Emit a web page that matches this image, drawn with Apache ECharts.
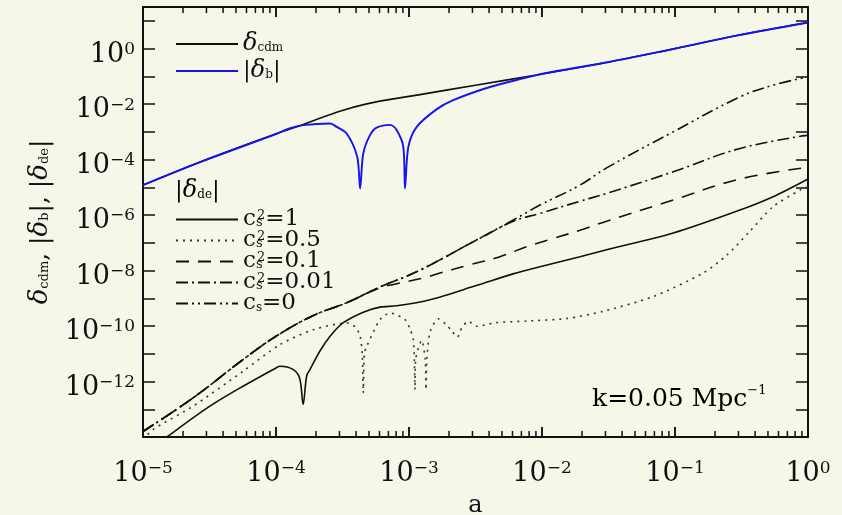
<!DOCTYPE html>
<html><head><meta charset="utf-8">
<script src="https://cdn.jsdelivr.net/npm/echarts@6/dist/echarts.min.js"></script>
<style>html,body{margin:0;padding:0;background:#f7f7e9;}#c{width:842px;height:515px;}</style>
</head><body><div id="c"></div>
<script>
// ---- data (a = scale factor, values = amplitude) ----
const aCdm = [1e-5, 2.69e-5, 1e-4, 1.51e-4, 2.70e-4, 4.81e-4, 1.21e-3, 3.16e-3, 9.12e-3, 2.89e-2, 0.1, 0.291, 1];
const dCdm = [1.20e-5, 8.13e-5, 8.51e-4, 1.66e-3, 4.57e-3, 1.02e-2, 2.19e-2, 4.79e-2, 0.112, 0.302, 1.0, 2.95, 8.71];

const aBar = [1e-5, 2.69e-5, 1e-4, 1.26e-4, 1.60e-4, 2.55e-4, 2.86e-4, 3.40e-4, 4.08e-4, 4.29e-4, 4.53e-4, 5.09e-4, 5.71e-4, 7.19e-4, 8.09e-4, 9.06e-4, 9.33e-4, 9.89e-4, 1.143e-3, 1.61e-3, 2.15e-3, 3.84e-3, 6.84e-3, 1.08e-2, 2.89e-2, 0.1, 0.291, 1];
const dBar = [1.20e-5, 8.13e-5, 8.32e-4, 1.32e-3, 1.74e-3, 2.00e-3, 1.51e-3, 8.71e-4, 1.26e-4, 9.12e-6, 1.66e-4, 7.59e-4, 1.41e-3, 1.78e-3, 1.15e-3, 2.88e-4, 9.12e-6, 2.88e-4, 1.51e-3, 6.46e-3, 1.38e-2, 3.80e-2, 7.94e-2, 0.132, 0.302, 1.0, 2.95, 8.71];

const aC1 = [1e-5, 1.54e-5, 3.18e-5, 5.65e-5, 1e-4, 1.07e-4, 1.35e-4, 1.51e-4, 1.60e-4, 1.70e-4, 1.80e-4, 2.14e-4, 2.55e-4, 3.19e-4, 4.53e-4, 6.05e-4, 8.09e-4, 1.439e-3, 3.16e-3, 6.05e-3, 9.66e-3, 1.93e-2, 3.06e-2, 9.70e-2, 0.308, 0.546, 1];
const dC1 = [2.24e-15, 1.07e-14, 1.29e-13, 6.76e-13, 3.09e-12, 3.55e-12, 2.69e-12, 1.26e-12, 1.48e-13, 1.58e-12, 2.69e-12, 1.26e-11, 4.27e-11, 1.29e-10, 3.16e-10, 4.79e-10, 5.37e-10, 8.91e-10, 2.82e-9, 7.59e-9, 1.38e-8, 3.16e-8, 5.62e-8, 2.24e-7, 1.51e-6, 4.57e-6, 2.0e-5];

const aC05 = [1e-5, 1.19e-5, 2.38e-5, 5.65e-5, 1.07e-4, 1.91e-4, 3.40e-4, 3.98e-4, 4.29e-4, 4.45e-4, 4.53e-4, 4.61e-4, 4.81e-4, 6.05e-4, 7.19e-4, 9.33e-4, 1.019e-3, 1.076e-3, 1.096e-3, 1.109e-3, 1.122e-3, 1.245e-3, 1.324e-3, 1.343e-3, 1.361e-3, 1.445e-3, 1.66e-3, 1.91e-3, 2.11e-3, 2.31e-3, 2.49e-3, 2.79e-3, 3.23e-3, 4.47e-3, 7.66e-3, 1.53e-2, 2.88e-2, 6.84e-2, 0.163, 0.246, 0.355, 0.546, 0.871, 1];
const dC05 = [7.94e-15, 1.86e-14, 1.29e-13, 2.34e-12, 2.14e-11, 7.41e-11, 1.29e-10, 8.91e-11, 4.27e-11, 1.0e-11, 3.89e-13, 1.0e-11, 1.86e-11, 1.70e-10, 2.95e-10, 1.70e-10, 7.76e-11, 3.39e-11, 6.31e-12, 5.13e-13, 6.31e-12, 3.02e-11, 6.31e-12, 5.13e-13, 6.31e-12, 6.31e-11, 1.82e-10, 1.12e-10, 6.46e-11, 3.98e-11, 8.51e-11, 1.48e-10, 9.77e-11, 1.32e-10, 1.51e-10, 1.86e-10, 3.39e-10, 1.15e-9, 8.13e-9, 3.63e-8, 2.24e-7, 2.0e-6, 7.94e-6, 1.05e-5];

const aC01 = [1e-5, 2.38e-5, 5.65e-5, 1e-4, 1.91e-4, 3.40e-4, 6.05e-4, 7.62e-4, 1.28e-3, 1.71e-3, 2.88e-3, 4.83e-3, 7.67e-3, 1.22e-2, 1.93e-2, 3.06e-2, 9.70e-2, 0.308, 1];
const dC01 = [1.58e-14, 2.57e-13, 6.17e-12, 4.27e-11, 2.40e-10, 6.92e-10, 2.40e-9, 3.16e-9, 5.37e-9, 8.13e-9, 1.62e-8, 3.16e-8, 7.24e-8, 1.45e-7, 2.82e-7, 6.03e-7, 3.47e-6, 2.0e-5, 5.25e-5];

const aC001 = [1e-5, 2.38e-5, 5.65e-5, 1e-4, 1.91e-4, 3.40e-4, 6.05e-4, 1.076e-3, 1.78e-3, 2.46e-3, 3.84e-3, 6.08e-3, 9.66e-3, 1.93e-2, 3.06e-2, 9.70e-2, 0.308, 1];
const dC001 = [1.58e-14, 2.57e-13, 6.17e-12, 4.27e-11, 2.40e-10, 6.92e-10, 2.57e-9, 7.94e-9, 2.69e-8, 6.31e-8, 1.95e-7, 6.03e-7, 1.15e-6, 3.16e-6, 6.03e-6, 3.63e-5, 2.51e-4, 7.59e-4];

const aC0 = [1e-5, 2.38e-5, 5.65e-5, 1e-4, 1.91e-4, 3.40e-4, 6.05e-4, 1.076e-3, 1.78e-3, 2.46e-3, 3.84e-3, 6.08e-3, 9.66e-3, 1.93e-2, 3.06e-2, 9.70e-2, 0.308, 0.546, 1];
const dC0 = [1.58e-14, 2.57e-13, 6.17e-12, 4.27e-11, 2.40e-10, 6.92e-10, 2.57e-9, 7.94e-9, 2.69e-8, 6.31e-8, 2.0e-7, 6.61e-7, 2.29e-6, 1.20e-5, 5.01e-5, 1.0e-3, 1.82e-2, 4.79e-2, 9.55e-2];

// axis tick / label values
const xLabelVals = [1e-5, 1e-4, 1e-3, 1e-2, 1e-1, 1];
const yLabelVals = [1e-12, 1e-10, 1e-8, 1e-6, 1e-4, 1e-2, 1];
const yTickVals = [1e-14, 1e-13, 1e-12, 1e-11, 1e-10, 1e-9, 1e-8, 1e-7, 1e-6, 1e-5, 1e-4, 1e-3, 1e-2, 1e-1, 1, 10];
const xMinorVals = [];
xLabelVals.slice(0, 5).forEach(d => { for (let m = 2; m <= 9; m++) xMinorVals.push(d * m); });

const FONT = 'DejaVu Serif';
const INK = '#111';
const X_MIN = 1e-5, X_MAX = 1, Y_MIN = 1e-14, Y_MAX = 31.6227766;
const GRID = { left: 143, right: 34, top: 7, bottom: 78 };
const lg = v => Math.log10(v);

// tick lengths (px) converted to a factor along the log y scale
const plotH = 515 - GRID.top - GRID.bottom;
const decPerPx = (lg(Y_MAX) - lg(Y_MIN)) / plotH;
const fac = px => Math.pow(10, px * decPerPx);
const MAJOR = 10, MINOR = 6;

function pow10Label(v) {
  const e = Math.round(Math.log10(v));
  return '{b|10}{s|' + (e < 0 ? '\u2212' + (-e) : e) + '}';
}
const tickRich = {
  b: { fontFamily: FONT, fontSize: 27, lineHeight: 27, padding: [5, 0, 0, 0], verticalAlign: 'bottom', color: INK },
  s: { fontFamily: FONT, fontSize: 17, lineHeight: 17, verticalAlign: 'top', color: INK }
};
const lgRich = {
  d: { fontFamily: FONT, fontSize: 24, fontStyle: 'italic', lineHeight: 20, color: INK },
  n: { fontFamily: FONT, fontSize: 23, lineHeight: 20, color: INK },
  sb: { fontFamily: FONT, fontSize: 12, lineHeight: 12, verticalAlign: 'bottom', color: INK },
  s0: { fontFamily: FONT, fontSize: 13, lineHeight: 12, verticalAlign: 'bottom', width: 1, color: INK },
  s2: { fontFamily: FONT, fontSize: 13, lineHeight: 12, verticalAlign: 'top', color: INK }
};
const titleRich = {
  d: { fontFamily: FONT, fontSize: 26, fontStyle: 'italic', lineHeight: 22, color: INK },
  n: { fontFamily: FONT, fontSize: 25, lineHeight: 22, color: INK },
  sb: { fontFamily: FONT, fontSize: 13, lineHeight: 13, verticalAlign: 'bottom', color: INK }
};
const legendText = {
  cdm: '{d|\u03b4}{sb|cdm}',
  b: '{n||}{d|\u03b4}{sb|b}{n||}',
  c1: '{n|c}{s0|s}{s2|2}{n|=1}',
  c05: '{n|c}{s0|s}{s2|2}{n|=0.5}',
  c01: '{n|c}{s0|s}{s2|2}{n|=0.1}',
  c001: '{n|c}{s0|s}{s2|2}{n|=0.01}',
  c0: '{n|c}{sb|s}{n|=0}'
};

function pairs(a, d) { return a.map((x, i) => [x, d[i]]); }
function lineSeries(name, a, d, color, width, type, smooth) {
  return {
    name, type: 'line', data: pairs(a, d), xAxisIndex: 0, yAxisIndex: 0,
    symbol: 'none', showSymbol: false, smooth: smooth, clip: true,
    lineStyle: { color, width, type }, itemStyle: { color }, z: 3
  };
}
// x tick marks on the bottom and top frame, drawn as short gapped line segments through the log scales
const xTickData = [];
function addTicks(vals, len) {
  vals.forEach(v => {
    xTickData.push([v, Y_MIN], [v, Y_MIN * fac(len)], [v, '-']);
    xTickData.push([v, Y_MAX], [v, Y_MAX / fac(len)], [v, '-']);
  });
}
addTicks(xLabelVals, MAJOR);
addTicks(xMinorVals, MINOR);
const xTickLine = {
  name: 'xticks', type: 'line', xAxisIndex: 0, yAxisIndex: 0, data: xTickData,
  symbol: 'none', showSymbol: false, connectNulls: false, smooth: false, clip: false, silent: true,
  lineStyle: { color: INK, width: 1.5 }, itemStyle: { color: INK }, z: 5
};
// y tick-only axes in exponent space (linear), sharing the grid
function tickAxis(pos, lo, hi, vals, len, line) {
  return {
    type: 'value', min: lo, max: hi, position: pos, gridIndex: 0,
    axisLine: { show: line, onZero: false, lineStyle: { color: INK, width: 2 } },
    axisTick: { show: true, inside: true, length: len, lineStyle: { color: INK, width: 1.5 }, customValues: vals },
    axisLabel: { show: false }, splitLine: { show: false }, minorTick: { show: false }
  };
}
const yTickExp = yTickVals.map(lg);

const chart = echarts.init(document.getElementById('c'), null, { renderer: 'canvas' });
chart.setOption({
  backgroundColor: '#f7f7e9',
  animation: false,
  grid: Object.assign({ outerBoundsMode: 'none' }, GRID),
  xAxis: [
    {
      type: 'log', logBase: 10, min: X_MIN, max: X_MAX, position: 'bottom',
      axisLine: { show: true, onZero: false, lineStyle: { color: INK, width: 2 } },
      axisTick: { show: true, inside: true, length: MAJOR, lineStyle: { color: INK, width: 1.5 } },
      axisLabel: { show: true, formatter: pow10Label, margin: 23, rich: tickRich },
      splitLine: { show: false },
      name: 'a', nameLocation: 'middle', nameGap: 57,
      nameTextStyle: { fontFamily: FONT, fontSize: 24, color: INK }
    },
    {
      type: 'log', logBase: 10, min: X_MIN, max: X_MAX, position: 'top',
      axisLine: { show: true, onZero: false, lineStyle: { color: INK, width: 2 } },
      axisTick: { show: true, inside: true, length: MAJOR, lineStyle: { color: INK, width: 1.5 } },
      axisLabel: { show: false },
      splitLine: { show: false }
    }
  ],
  yAxis: [
    {
      type: 'log', logBase: 10, min: Y_MIN, max: Y_MAX, position: 'left',
      axisLine: { show: true, onZero: false, lineStyle: { color: INK, width: 2 } },
      axisTick: { show: false },
      axisLabel: { show: true, customValues: yLabelVals, formatter: pow10Label, margin: 8, padding: [12, 0, 0, 0], rich: tickRich },
      splitLine: { show: false }, minorTick: { show: false },
      name: '{d|\u03b4}{sb|cdm}{n|, |}{d|\u03b4}{sb|b}{n||, |}{d|\u03b4}{sb|de}{n||}',
      nameLocation: 'middle', nameGap: 92, nameRotate: 90,
      nameTextStyle: { rich: titleRich }
    },
    tickAxis('left', lg(Y_MIN), lg(Y_MAX), yTickExp, 12, false),
    tickAxis('right', lg(Y_MIN), lg(Y_MAX), yTickExp, 12, true)
  ],
  legend: [
    {
      data: ['cdm', 'b'], left: 170, top: 27, orient: 'vertical',
      itemWidth: 62, itemHeight: 22, itemGap: 3,
      itemStyle: { opacity: 0 },
      formatter: n => legendText[n], textStyle: { rich: lgRich }, selectedMode: false
    },
    {
      data: ['c1', 'c05', 'c01', 'c001', 'c0'], left: 170, top: 203, orient: 'vertical',
      itemWidth: 62, itemHeight: 20, itemGap: -2,
      itemStyle: { opacity: 0 },
      formatter: n => legendText[n], textStyle: { rich: lgRich }, selectedMode: false
    }
  ],
  graphic: [
    { type: 'text', left: 175, top: 179, z: 10,
      style: { text: '{n||}{d|\u03b4}{sb|de}{n||}', rich: lgRich } },
    { type: 'text', left: 592, top: 384, z: 10,
      style: { text: '{k|k=0.05 Mpc}{e|\u22121}', rich: {
        k: { fontFamily: FONT, fontSize: 25, lineHeight: 28, verticalAlign: 'bottom', color: INK },
        e: { fontFamily: FONT, fontSize: 13, lineHeight: 13, verticalAlign: 'top', color: INK } } } }
  ],
  series: [
    xTickLine,
    lineSeries('cdm', aCdm, dCdm, INK, 1.6, 'solid', 0.45),
    lineSeries('b', aBar, dBar, '#1414ee', 1.9, 'solid', 0.3),
    lineSeries('c1', aC1, dC1, INK, 1.6, 'solid', 0.3),
    lineSeries('c05', aC05, dC05, '#333', 1.6, [2, 5], 0.25),
    lineSeries('c01', aC01, dC01, INK, 1.6, [13, 9], 0.4),
    lineSeries('c001', aC001, dC001, INK, 1.6, [12, 4, 2, 4], 0.4),
    lineSeries('c0', aC0, dC0, INK, 1.6, [12, 4, 2, 4, 2, 4], 0.4)
  ]
});
</script>
</body></html>
